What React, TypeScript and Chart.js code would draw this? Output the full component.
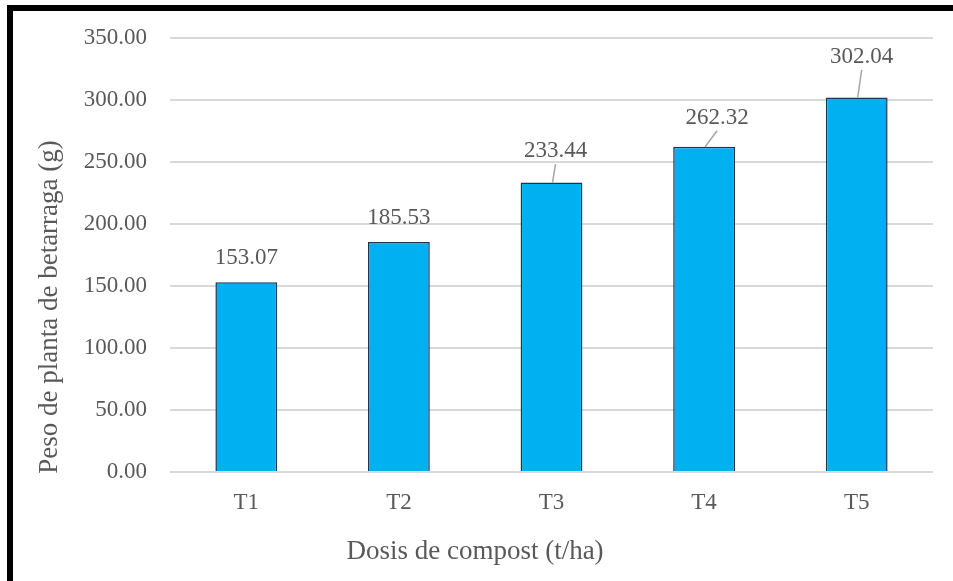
import React, { useEffect, useRef } from "react";
import { Chart, registerables } from "chart.js";

Chart.register(...registerables);

// Treatments and mean plant weight (g)
const categories = ["T1", "T2", "T3", "T4", "T5"];
const plantWeight = [153.07, 185.53, 233.44, 262.32, 302.04];
const yTicks = [0, 50, 100, 150, 200, 250, 300, 350];

const yAxisTitle = "Peso de planta de betarraga (g)";
const xAxisTitle = "Dosis de compost (t/ha)";

const FONT = "'Liberation Serif', 'Times New Roman', serif";
const TEXT = "#595959";

// Label placement relative to each bar top (px), leader line where the label is lifted
const labelPlacement = [
  { dx: 0, dy: 24, leader: false },
  { dx: 0, dy: 24, leader: false },
  { dx: 4, dy: 31.5, leader: true },
  { dx: 13, dy: 29, leader: true },
  { dx: 5, dy: 40.5, leader: true },
];

const framePlugin = {
  id: "frame",
  beforeDraw(chart: any) {
    const { ctx, width, height } = chart;
    ctx.save();
    ctx.fillStyle = "#ffffff";
    ctx.fillRect(0, 0, width, height);
    ctx.fillStyle = "#000000";
    ctx.fillRect(7, 5, 6, height - 5);
    ctx.fillRect(7, 5, width - 7, 6);
    ctx.restore();
  },
};

const valueLabelPlugin = {
  id: "valueLabels",
  afterDatasetsDraw(chart: any) {
    const { ctx } = chart;
    const meta = chart.getDatasetMeta(0);
    const values = chart.data.datasets[0].data as number[];
    ctx.save();
    ctx.font = `23px ${FONT}`;
    ctx.textAlign = "center";
    ctx.textBaseline = "middle";
    meta.data.forEach((bar: any, i: number) => {
      const p = labelPlacement[i];
      const lx = bar.x + p.dx;
      const ly = bar.y - p.dy;
      if (p.leader) {
        ctx.strokeStyle = "#a6a6a6";
        ctx.lineWidth = 1.5;
        ctx.beginPath();
        ctx.moveTo(lx, ly + 13);
        ctx.lineTo(bar.x + 1, bar.y);
        ctx.stroke();
      }
      ctx.fillStyle = TEXT;
      ctx.fillText(values[i].toFixed(2), lx, ly);
    });
    ctx.restore();
  },
};

const axisTitlePlugin = {
  id: "axisTitles",
  afterDraw(chart: any) {
    const { ctx } = chart;
    ctx.save();
    ctx.font = `27px ${FONT}`;
    ctx.fillStyle = TEXT;
    ctx.textAlign = "center";
    ctx.textBaseline = "middle";
    ctx.fillText(xAxisTitle, 475, 552);
    ctx.translate(50, 307);
    ctx.rotate(-Math.PI / 2);
    ctx.fillText(yAxisTitle, 0, 0);
    ctx.restore();
  },
};

export default function App() {
  const canvasRef = useRef<HTMLCanvasElement | null>(null);

  useEffect(() => {
    if (!canvasRef.current) return;
    const chart = new Chart(canvasRef.current, {
      type: "bar",
      data: {
        labels: categories,
        datasets: [
          {
            data: plantWeight,
            backgroundColor: "#00b0f0",
            borderColor: "#1f3450",
            borderWidth: 1.5,
            categoryPercentage: 1,
            barPercentage: 0.405,
          },
        ],
      },
      options: {
        responsive: false,
        animation: false,
        layout: { padding: { left: 0, top: 38, right: 20, bottom: 0 } },
        plugins: {
          legend: { display: false },
          tooltip: { enabled: false },
        },
        scales: {
          x: {
            grid: { display: false },
            border: { display: false },
            ticks: {
              color: TEXT,
              font: { family: FONT, size: 23 },
              padding: 9,
            },
            afterFit(scale: any) {
              scale.height = 109;
            },
          },
          y: {
            min: 0,
            max: 350,
            afterBuildTicks(scale: any) {
              scale.ticks = yTicks.map((v) => ({ value: v }));
            },
            grid: { color: "#d9d9d9", lineWidth: 2, drawTicks: false },
            border: { display: false },
            ticks: {
              color: TEXT,
              font: { family: FONT, size: 23 },
              padding: 23,
              callback: (v: any) => Number(v).toFixed(2),
            },
            afterFit(scale: any) {
              scale.width = 170;
            },
          },
        },
      },
      plugins: [framePlugin, valueLabelPlugin, axisTitlePlugin],
    });
    return () => chart.destroy();
  }, []);

  return (
    <div style={{ position: "fixed", left: 0, top: 0, width: 953, height: 581 }}>
      <canvas ref={canvasRef} width={953} height={581} />
    </div>
  );
}
